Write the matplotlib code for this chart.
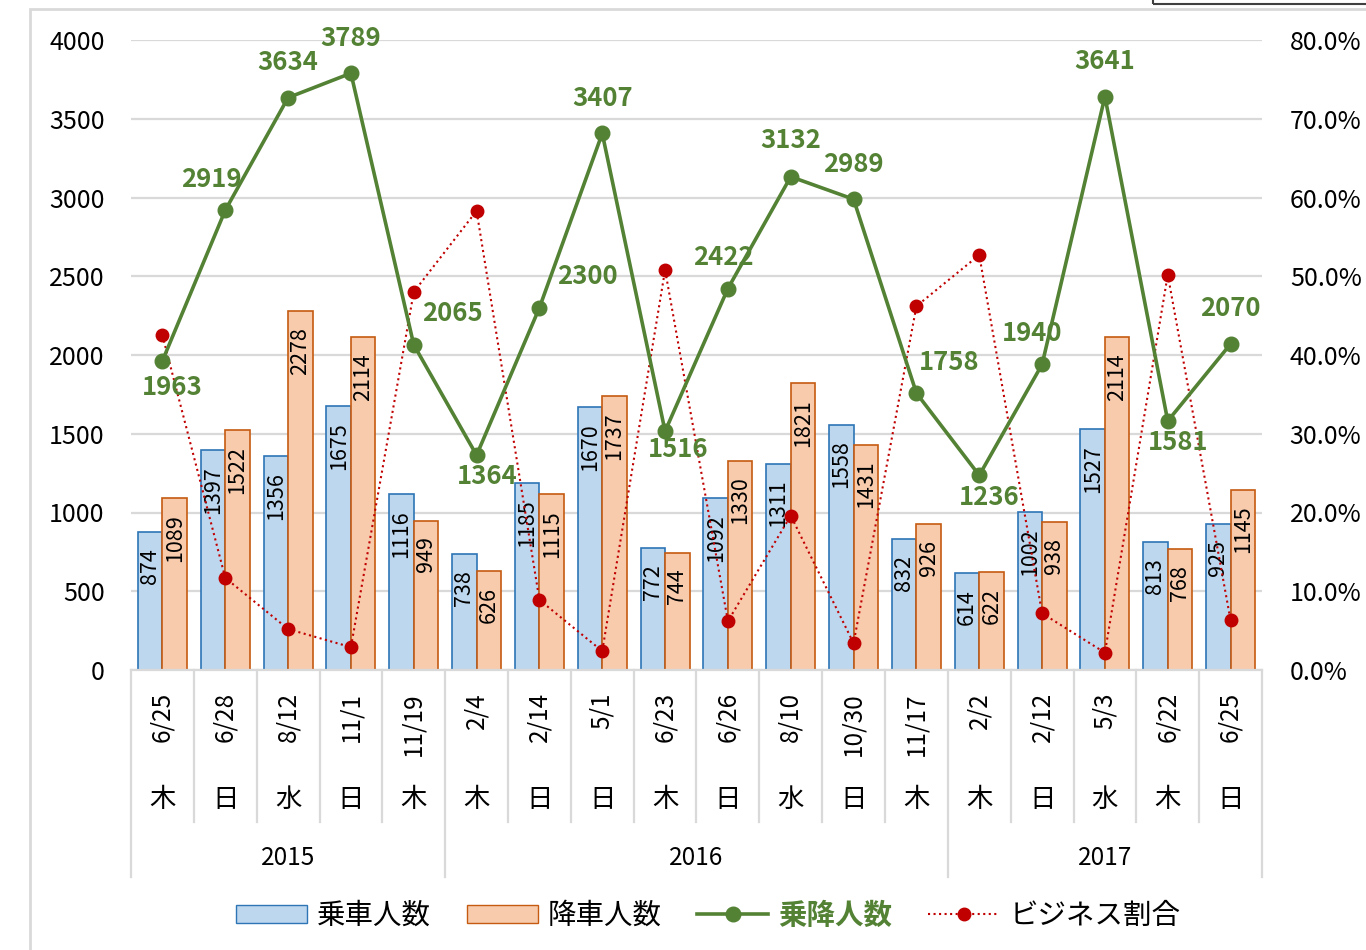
import numpy as np
import matplotlib
matplotlib.use("Agg")
import matplotlib.pyplot as plt
from matplotlib.patches import Rectangle
from matplotlib.lines import Line2D
from matplotlib.patches import Patch

plt.rcParams['font.family'] = ['Noto Sans CJK JP', 'DejaVu Sans']

# data
dates = ['6/25', '6/28', '8/12', '11/1', '11/19',
         '2/4', '2/14', '5/1', '6/23', '6/26', '8/10', '10/30', '11/17',
         '2/2', '2/12', '5/3', '6/22', '6/25']
weekdays = ['木', '日', '水', '日', '木',
            '木', '日', '日', '木', '日', '水', '日', '木',
            '木', '日', '水', '木', '日']
years = ['2015', '2016', '2017']
year_counts = [5, 8, 5]
boarding = [874, 1397, 1356, 1675, 1116, 738, 1185, 1670, 772, 1092, 1311, 1558, 832,
            614, 1002, 1527, 813, 925]
alighting = [1089, 1522, 2278, 2114, 949, 626, 1115, 1737, 744, 1330, 1821, 1431, 926,
             622, 938, 2114, 768, 1145]
total = [1963, 2919, 3634, 3789, 2065, 1364, 2300, 3407, 1516, 2422, 3132, 2989, 1758,
         1236, 1940, 3641, 1581, 2070]
business_ratio = [42.5, 11.7, 5.2, 2.9, 48.0, 58.3, 8.9, 2.4, 50.8, 6.2, 19.6, 3.4, 46.2,
                  52.7, 7.2, 2.2, 50.2, 6.3]

# label offsets for the total line (pixels, as placed in the original)
total_label_offsets = [(10, -27), (-14, 31), (0, 35), (0, 35), (39, 31), (11, -21),
                       (48, 31), (0, 35), (13, -18), (-5, 31), (0, 36), (0, 35),
                       (33, 31), (10, -22), (-10, 31), (0, 35), (10, -22), (0, 35)]

BLUE_FILL, BLUE_EDGE = '#BDD7EE', '#2E75B6'
ORANGE_FILL, ORANGE_EDGE = '#F8CBAD', '#C55A11'
GREEN = '#548235'
RED = '#C00000'
GRID = '#D9D9D9'

fig = plt.figure(figsize=(13.66, 9.5), dpi=100)
ax = fig.add_axes([131 / 1366, 280 / 950, 1131 / 1366, 630 / 950])
ax2 = ax.twinx()
ax3 = fig.add_axes(ax.get_position(), sharex=ax, sharey=ax)
ax3.axis('off')
ax3.patch.set_visible(False)

x = np.arange(len(dates))
w = 0.39
ax.bar(x - w / 2, boarding, w, color=BLUE_FILL, edgecolor=BLUE_EDGE, linewidth=1.2, zorder=2)
ax.bar(x + w / 2, alighting, w, color=ORANGE_FILL, edgecolor=ORANGE_EDGE, linewidth=1.2, zorder=2)
for xi, v in zip(x - w / 2, boarding):
    ax.annotate(str(v), (xi, v), xytext=(0, -16), textcoords='offset pixels',
                rotation=90, ha='center', va='top', fontsize=15.5, color='black', zorder=3)
for xi, v in zip(x + w / 2, alighting):
    ax.annotate(str(v), (xi, v), xytext=(0, -16), textcoords='offset pixels',
                rotation=90, ha='center', va='top', fontsize=15.5, color='black', zorder=3)

ax.set_xlim(-0.5, len(dates) - 0.5)
ax.set_ylim(0, 4000)
ax.set_yticks(np.arange(0, 4001, 500))
ax.yaxis.grid(True, color=GRID, linewidth=1.6)
ax.set_axisbelow(True)
ax.tick_params(axis='y', length=0, pad=19, labelsize=18)
ax.set_xticks([])
for s in ['top', 'left', 'right']:
    ax.spines[s].set_visible(False)
ax.spines['bottom'].set_color(GRID)
ax.spines['bottom'].set_linewidth(1.6)

# business ratio on secondary axis
ax2.plot(x, business_ratio, color=RED, linestyle=':', linewidth=1.5,
         marker='o', markersize=9, markerfacecolor=RED, markeredgecolor=RED)
ax2.set_ylim(0, 80)
ax2.set_yticks(np.arange(0, 81, 10))
ax2.set_yticklabels([f'{t:.1f}%' for t in np.arange(0, 81, 10)])
ax2.tick_params(axis='y', length=0, pad=20, labelsize=18)
for s in ['top', 'left', 'right', 'bottom']:
    ax2.spines[s].set_visible(False)

# total line on top
ax3.plot(x, total, color=GREEN, linewidth=2.6, marker='o', markersize=10.5,
         markerfacecolor=GREEN, markeredgecolor=GREEN)
for xi, v, (dx, dy) in zip(x, total, total_label_offsets):
    ax3.annotate(str(v), (xi, v), xytext=(dx, dy), textcoords='offset pixels',
                 ha='center', va='center', fontsize=18.5, fontweight='bold', color=GREEN)

# multi-level category axis
tr = ax.get_xaxis_transform()
bounds = np.cumsum([0] + year_counts) - 0.5
for b in np.arange(-0.5, len(dates)):
    y_end = -0.329 if b in bounds else -0.241
    ax.plot([b, b], [0, y_end], color=GRID, linewidth=1.6, transform=tr, clip_on=False)
for xi, d, wd in zip(x, dates, weekdays):
    ax.text(xi, -0.035, d, rotation=90, ha='center', va='top', fontsize=17.5, transform=tr)
    ax.text(xi, -0.206, wd, ha='center', va='center', fontsize=19, transform=tr)
for i, yr in enumerate(years):
    ax.text((bounds[i] + bounds[i + 1]) / 2, -0.298, yr, ha='center', va='center',
            fontsize=17.5, transform=tr)

# legend
handles = [Patch(facecolor=BLUE_FILL, edgecolor=BLUE_EDGE),
           Patch(facecolor=ORANGE_FILL, edgecolor=ORANGE_EDGE),
           Line2D([], [], color=GREEN, linewidth=2.6, marker='o', markersize=10.5),
           Line2D([], [], color=RED, linestyle=':', linewidth=1.5, marker='o', markersize=9)]
leg = fig.legend(handles, ['乗車人数', '降車人数', '乗降人数', 'ビジネス割合'],
                 loc='center', bbox_to_anchor=(708 / 1366, 1 - 916 / 950), ncol=4,
                 frameon=False, fontsize=20.5, handlelength=2.5, handleheight=0.6,
                 columnspacing=1.25, handletextpad=0.35)
leg.get_texts()[2].set_color(GREEN)
leg.get_texts()[2].set_fontweight('bold')

# chart border and corner box
fig.add_artist(Rectangle((30 / 1366, -0.05), 1.1, 1 - 9 / 950 + 0.05, transform=fig.transFigure,
                         fill=False, edgecolor=GRID, linewidth=2))
fig.add_artist(Rectangle((1153 / 1366, 1 - 4 / 950), 0.2, 0.05, transform=fig.transFigure,
                         fill=False, edgecolor='#404040', linewidth=1.5))

fig.savefig('out.png', dpi=100)
